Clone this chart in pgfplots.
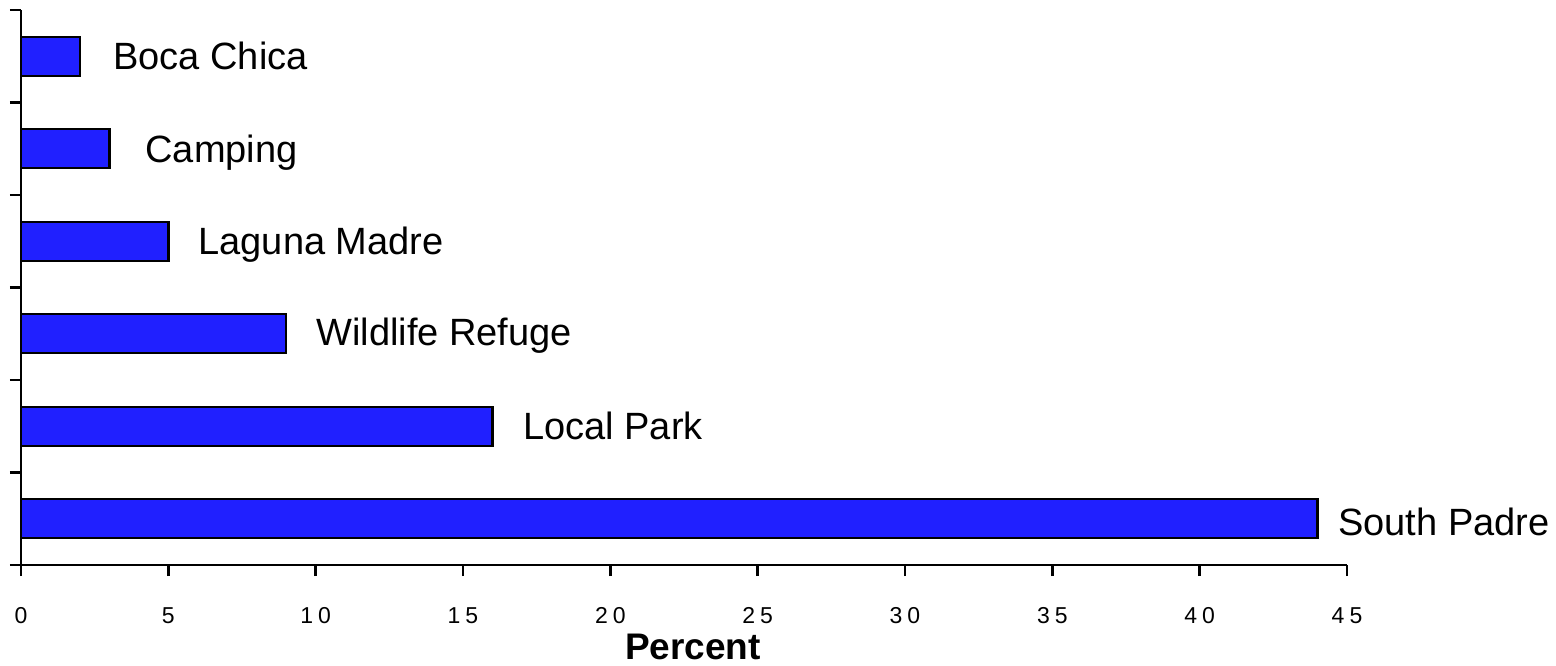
\documentclass[border=0pt]{standalone}
\usepackage{fontspec}
\setmainfont{Liberation Sans}
\usepackage{pgfplots}
\pgfplotsset{compat=1.18}
\definecolor{barblue}{RGB}{32,32,255}
\begin{document}
\begin{tikzpicture}
\begin{axis}[
 at={(0,0)}, anchor=south west,
 scale only axis, width=663pt, height=277.5pt,
 xmin=0, xmax=45, ymin=0.5, ymax=6.5,
 axis x line=bottom, axis y line=left,
 axis line style={-, line width=1.4pt, black},
 xtick={0,5,...,45},
 xticklabels={0,5,1\kern2.5pt 0,1\kern2.5pt 5,2\kern2.5pt 0,2\kern2.5pt 5,3\kern2.5pt 0,3\kern2.5pt 5,4\kern2.5pt 0,4\kern2.5pt 5},
 ytick={0.5,1.5,...,6.5}, yticklabels={},
 tick align=outside, major tick length=5.5pt,
 tick style={line width=1.4pt, black},
 xticklabel style={font=\fontsize{11.5}{12}\selectfont, anchor=center, yshift=-20pt},
 xlabel={Percent},
 xlabel style={font=\fontsize{18.5}{20}\selectfont\bfseries, at={(axis description cs:0.5,0)}, anchor=center, yshift=-41pt, xshift=4.5pt},
 clip=false,
]
\addplot[xbar, bar width=19.5pt, fill=barblue, draw=black, line width=1.2pt] coordinates {(44,1) (16,2) (9,3) (5,4) (3,5) (2,6)};
\node[anchor=west, font=\fontsize{19}{21}\selectfont, inner sep=0pt] at (axis cs:3.12,6) {Boca Chica};
\node[anchor=west, font=\fontsize{19}{21}\selectfont, inner sep=0pt, yshift=-2pt] at (axis cs:4.21,5) {Camping};
\node[anchor=west, font=\fontsize{19}{21}\selectfont, inner sep=0pt, yshift=-1.5pt] at (axis cs:6.01,4) {Laguna Madre};
\node[anchor=west, font=\fontsize{19}{21}\selectfont, inner sep=0pt, yshift=-1pt] at (axis cs:10.01,3) {Wildlife Refuge};
\node[anchor=west, font=\fontsize{19}{21}\selectfont, inner sep=0pt] at (axis cs:17.03,2) {Local Park};
\node[anchor=west, font=\fontsize{19}{21}\selectfont, inner sep=0pt, yshift=-1.5pt] at (axis cs:44.69,1) {South Padre};
\end{axis}
\pgfresetboundingbox
\useasboundingbox (-10.5pt,-50pt) rectangle (767.5pt,282.5pt);
\end{tikzpicture}
\end{document}
